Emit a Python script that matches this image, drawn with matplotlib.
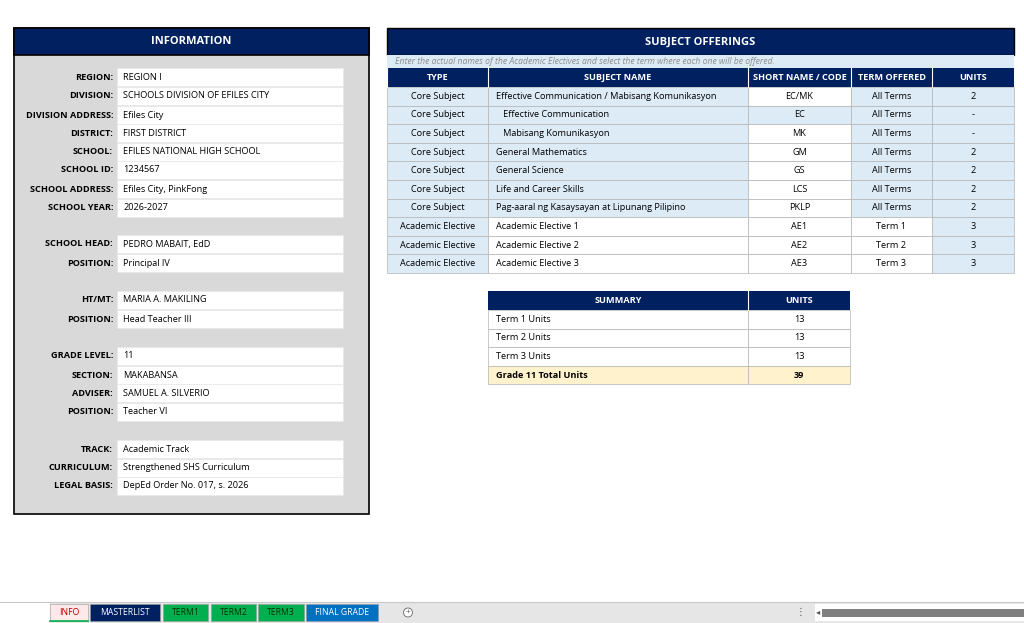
import matplotlib
matplotlib.use("Agg")
import matplotlib.pyplot as plt
from matplotlib.patches import Rectangle, Circle

plt.rcParams['font.family'] = ['Open Sans', 'DejaVu Sans']

NAVY = '#002060'; LB = '#ddebf7'; GRAY = '#d9d9d9'

info_labels = ["REGION:", "DIVISION:", "DIVISION ADDRESS:", "DISTRICT:", "SCHOOL:", "SCHOOL ID:",
               "SCHOOL ADDRESS:", "SCHOOL YEAR:", "SCHOOL HEAD:", "POSITION:", "HT/MT:", "POSITION:",
               "GRADE LEVEL:", "SECTION:", "ADVISER:", "POSITION:", "TRACK:", "CURRICULUM:", "LEGAL BASIS:"]
info_values = ["REGION I", "SCHOOLS DIVISION OF EFILES CITY", "Efiles City", "FIRST DISTRICT",
               "EFILES NATIONAL HIGH SCHOOL", "1234567", "Efiles City, PinkFong", "2026-2027",
               "PEDRO MABAIT, EdD", "Principal IV", "MARIA A. MAKILING", "Head Teacher III",
               "11", "MAKABANSA", "SAMUEL A. SILVERIO", "Teacher VI",
               "Academic Track", "Strengthened SHS Curriculum", "DepEd Order No. 017, s. 2026"]
info_y = [77, 96, 115, 133, 152, 170, 189, 208, 244, 263, 300, 319, 356, 375, 393, 412, 449, 468, 486]

col_heads = ["TYPE", "SUBJECT NAME", "SHORT NAME / CODE", "TERM OFFERED", "UNITS"]
types = ["Core Subject"] * 7 + ["Academic Elective"] * 3
subjects = ["Effective Communication / Mabisang Komunikasyon", "   Effective Communication",
            "   Mabisang Komunikasyon", "General Mathematics", "General Science", "Life and Career Skills",
            "Pag-aaral ng Kasaysayan at Lipunang Pilipino", "Academic Elective 1", "Academic Elective 2",
            "Academic Elective 3"]
codes = ["EC/MK", "EC", "MK", "GM", "GS", "LCS", "PKLP", "AE1", "AE2", "AE3"]
terms = ["All Terms"] * 7 + ["Term 1", "Term 2", "Term 3"]
units = ["2", "-", "-", "2", "2", "2", "2", "3", "3", "3"]

sum_labels = ["Term 1 Units", "Term 2 Units", "Term 3 Units", "Grade 11 Total Units"]
sum_units = ["13", "13", "13", "39"]

tabs = ["INFO", "MASTERLIST", "TERM1", "TERM2", "TERM3", "FINAL GRADE"]
tab_x = [(50, 88), (90, 160), (163, 208), (211, 256), (258, 304), (306, 378)]
tab_col = ['#fde9e9', NAVY, '#00b050', '#00b050', '#00b050', '#0070c0']
tab_txt = ['#c00000', 'white', '#003300', '#003300', '#003300', 'white']

fig = plt.figure(figsize=(10.24, 6.23), dpi=100)
ax = fig.add_axes([0, 0, 1, 1])
ax.set_xlim(0, 1024); ax.set_ylim(623, 0); ax.axis('off')

def rect(x0, y0, x1, y1, fc, ec='none', lw=0.6, z=1):
    ax.add_patch(Rectangle((x0, y0), x1 - x0, y1 - y0, fc=fc, ec=ec, lw=lw, zorder=z))

FS = 6.6
# left panel
rect(14, 28, 369, 514, GRAY, 'black', 1.2)
rect(14, 28, 369, 55, NAVY, 'black', 1.2, 2)
ax.text(191.5, 42, "INFORMATION", color='white', fontsize=8, fontweight='bold', ha='center', va='center', zorder=3)
for lab, val, y in zip(info_labels, info_values, info_y):
    rect(117, y - 9.2, 343, y + 9.2, 'white', '#e8e8e8', 0.5, 2)
    ax.text(113, y, lab, fontsize=FS, fontweight='bold', ha='right', va='center', zorder=3)
    ax.text(123, y, val, fontsize=FS, ha='left', va='center', zorder=3)

# subject offerings
cx = [387, 488, 748, 851, 932, 1014]
rect(387, 28, 1014, 55, NAVY, 'black', 1.0, 2)
ax.text(700, 42, "SUBJECT OFFERINGS", color='white', fontsize=8, fontweight='bold', ha='center', va='center', zorder=3)
rect(387, 55, 1014, 68, LB, 'none', 0, 2)
ax.text(395, 61.5, "Enter the actual names of the Academic Electives and select the term where each one will be offered.",
        fontsize=6.2, style='italic', color='#8c8c8c', ha='left', va='center', zorder=3)
rect(387, 68, 1014, 87, NAVY, 'none', 0, 2)
for i, h in enumerate(col_heads):
    ax.plot([cx[i], cx[i]], [68, 87], color='white', lw=0.8, zorder=3)
    ax.text((cx[i] + cx[i + 1]) / 2, 77.5, h, color='white', fontsize=FS, fontweight='bold', ha='center', va='center', zorder=3)
rh = 18.6
for r in range(len(types)):
    y0 = 87 + r * rh; y1 = y0 + rh; yc = (y0 + y1) / 2
    elect = types[r] == "Academic Elective"
    fills = [LB, 'white' if elect else LB, LB if r == 1 else 'white', 'white' if elect else LB, LB]
    for c in range(5):
        rect(cx[c], y0, cx[c + 1], y1, fills[c], '#b4b4b4', 0.5, 2)
    ax.text((cx[0] + cx[1]) / 2, yc, types[r], fontsize=FS, ha='center', va='center', zorder=3)
    ax.text(cx[1] + 8, yc, subjects[r], fontsize=FS, ha='left', va='center', zorder=3)
    ax.text((cx[2] + cx[3]) / 2, yc, codes[r], fontsize=FS, ha='center', va='center', zorder=3)
    ax.text((cx[3] + cx[4]) / 2, yc, terms[r], fontsize=FS, ha='center', va='center', zorder=3)
    ax.text((cx[4] + cx[5]) / 2, yc, units[r], fontsize=FS, ha='center', va='center', zorder=3)

# summary
sx = [488, 748, 850]
rect(488, 291, 850, 310, NAVY, 'none', 0, 2)
ax.plot([748, 748], [291, 310], color='white', lw=0.8, zorder=3)
ax.text(618, 300.5, "SUMMARY", color='white', fontsize=FS, fontweight='bold', ha='center', va='center', zorder=3)
ax.text(799, 300.5, "UNITS", color='white', fontsize=FS, fontweight='bold', ha='center', va='center', zorder=3)
for r in range(len(sum_labels)):
    y0 = 310 + r * 18.6; y1 = y0 + 18.6; yc = (y0 + y1) / 2
    last = r == len(sum_labels) - 1
    fc = '#fff2cc' if last else 'white'
    rect(sx[0], y0, sx[1], y1, fc, '#b4b4b4', 0.5, 2)
    rect(sx[1], y0, sx[2], y1, fc, '#b4b4b4', 0.5, 2)
    ax.text(sx[0] + 8, yc, sum_labels[r], fontsize=FS, ha='left', va='center', zorder=3,
            fontweight='bold' if last else 'normal')
    ax.text(799, yc, sum_units[r], fontsize=FS, ha='center', va='center', zorder=3,
            fontweight='bold' if last else 'normal')

# bottom bar
rect(0, 602, 1024, 623, '#e6e6e6', 'none', 0, 1)
rect(0, 602, 50, 623, 'white', 'none', 0, 1)
ax.plot([0, 1024], [602, 602], color='#c8c8c8', lw=0.8)
for (x0, x1), t, fc, tc in zip(tab_x, tabs, tab_col, tab_txt):
    rect(x0, 604, x1, 621, fc, '#999999', 0.4, 2)
    ax.text((x0 + x1) / 2, 612.5, t, fontsize=6.2, color=tc, ha='center', va='center', zorder=3)
ax.plot([50, 88], [621, 621], color='#00b050', lw=1.2, zorder=3)
ax.add_patch(Circle((408, 612.5), 4.5, fc='white', ec='#666666', lw=0.6, zorder=3))
ax.text(408, 612.5, "+", fontsize=6, ha='center', va='center', color='#444444', zorder=4)
ax.text(800, 612.5, "⋮", fontsize=7, ha='center', va='center', color='#555555', zorder=3)
rect(815, 604, 1024, 621, 'white', 'none', 0, 2)
rect(822, 608.5, 1024, 616.5, '#7f7f7f', 'none', 0, 3)
ax.text(818, 612.5, "◂", fontsize=6, ha='center', va='center', color='#555555', zorder=4)

fig.savefig("out.png", dpi=100)
